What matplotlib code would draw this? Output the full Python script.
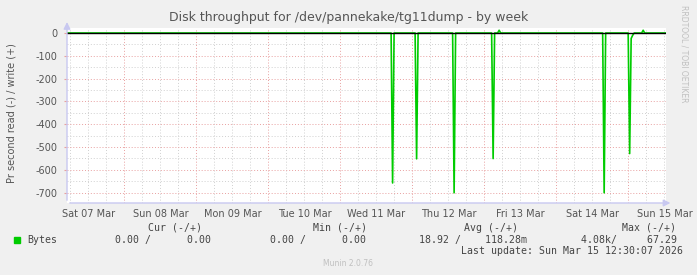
import numpy as np
import matplotlib
matplotlib.use("Agg")
import matplotlib.pyplot as plt

# x positions are in days since Sat 07 Mar 00:00
day_labels = ['Sat 07 Mar', 'Sun 08 Mar', 'Mon 09 Mar', 'Tue 10 Mar',
              'Wed 11 Mar', 'Thu 12 Mar', 'Fri 13 Mar', 'Sat 14 Mar', 'Sun 15 Mar']
t_start = 0.204   # Sat 07 Mar ~04:54
t_end = 8.521     # Sun 15 Mar 12:30

# read (-) spikes and write (+) blips, in bytes/s
event_days = [4.718, 5.054, 5.572, 6.114, 6.194, 7.656, 8.017, 8.038, 8.059, 8.197]
event_vals = [-658, -552, -701, -551, 12, -701, -529, -24, -10, 12]

yticks = [0, -100, -200, -300, -400, -500, -600, -700]
y_min, y_max = -746, 22

legend_cols = ['Cur (-/+)', 'Min (-/+)', 'Avg (-/+)', 'Max (-/+)']
legend_vals = ['0.00 /      0.00', '0.00 /      0.00', '18.92 /    118.28m', '4.08k/     67.29']

t = np.arange(t_start, t_end, 1 / 48)
v = np.zeros_like(t)
for d, val in zip(event_days, event_vals):
    v[np.argmin(np.abs(t - d))] = val

text_c = '#555555'
green = '#00cc00'
axis_c = '#c8c8f0'

fig = plt.figure(figsize=(6.97, 2.75), dpi=100, facecolor='#f0f0f0')
ax = fig.add_axes([67 / 697, 72 / 275, 599 / 697, 175 / 275])
ax.set_facecolor('white')
ax.set_xlim(t_start, t_end)
ax.set_ylim(y_min, y_max)

# grid: red dotted at days / hundreds, gray dotted at 6h / fifties
days = np.arange(1, 9)
quarters = np.arange(0.25, 8.6, 0.25)
quarters = quarters[(quarters % 1 != 0) & (quarters > t_start) & (quarters < t_end)]
ax.vlines(quarters, y_min, y_max, colors='#d0d0d0', linestyles=(0, (1, 2)), linewidth=0.7, zorder=0)
ax.vlines(days, y_min, y_max, colors='#e8a0a0', linestyles=(0, (1, 2)), linewidth=0.7, zorder=0)
halves = np.arange(-650, 0, 100)
ax.hlines(halves, t_start, t_end, colors='#d0d0d0', linestyles=(0, (1, 2)), linewidth=0.7, zorder=0)
ax.hlines(yticks[1:], t_start, t_end, colors='#e8a0a0', linestyles=(0, (1, 2)), linewidth=0.7, zorder=0)

ax.plot(t, v, color=green, linewidth=1.2, zorder=2)
ax.axhline(0, color='black', linewidth=1.0, zorder=3)

ax.set_xticks(np.arange(0.5, 9, 1))
ax.set_xticklabels(day_labels)
ax.set_yticks(yticks)
ax.set_yticklabels([str(y) for y in yticks])
ax.tick_params(axis='x', length=0, pad=4, labelsize=7, labelcolor=text_c)
ax.tick_params(axis='y', length=2, color='#e8a0a0', pad=5, labelsize=7, labelcolor=text_c)
for s in ax.spines.values():
    s.set_visible(False)

# axis lines with arrows
ax.annotate('', xy=(0, 1.05), xytext=(0, 0), xycoords='axes fraction',
            arrowprops=dict(arrowstyle='-|>,head_length=0.4,head_width=0.2', color=axis_c, lw=1),
            annotation_clip=False)
ax.annotate('', xy=(1.012, 0), xytext=(0, 0), xycoords='axes fraction',
            arrowprops=dict(arrowstyle='-|>,head_length=0.4,head_width=0.2', color=axis_c, lw=1),
            annotation_clip=False)

fig.text(349 / 697, 1 - 17 / 275, 'Disk throughput for /dev/pannekake/tg11dump - by week',
         ha='center', va='center', fontsize=9, color=text_c)
fig.text(12 / 697, 1 - 113 / 275, 'Pr second read (-) / write (+)', rotation=90,
         ha='center', va='center', fontsize=7, color=text_c)
fig.text(684 / 697, 1 - 54 / 275, 'RRDTOOL / TOBI OETIKER', rotation=270,
         ha='center', va='center', fontsize=5.5, color='#c0c0c0')

mono = dict(family='DejaVu Sans Mono', fontsize=7.1, color='#444444', va='center')
col_x = [175, 340, 491, 649]
for cx, lab in zip(col_x, legend_cols):
    fig.text(cx / 697, 1 - 228 / 275, lab, ha='center', **mono)
fig.add_artist(plt.Rectangle((14 / 697, 1 - 242.5 / 275), 5.5 / 697, 5.5 / 275,
                             transform=fig.transFigure, color=green))
fig.text(27 / 697, 1 - 240 / 275, 'Bytes', ha='left', **mono)
val_right = [211, 366, 527, 677]
for rx, lab in zip(val_right, legend_vals):
    fig.text(rx / 697, 1 - 240 / 275, lab, ha='right', **mono)
fig.text(683 / 697, 1 - 251 / 275, 'Last update: Sun Mar 15 12:30:07 2026', ha='right', **mono)
fig.text(348 / 697, 1 - 263 / 275, 'Munin 2.0.76', ha='center', va='center',
         fontsize=5.5, color='#c0c0c0')

fig.savefig('out.png', dpi=100, facecolor=fig.get_facecolor())
